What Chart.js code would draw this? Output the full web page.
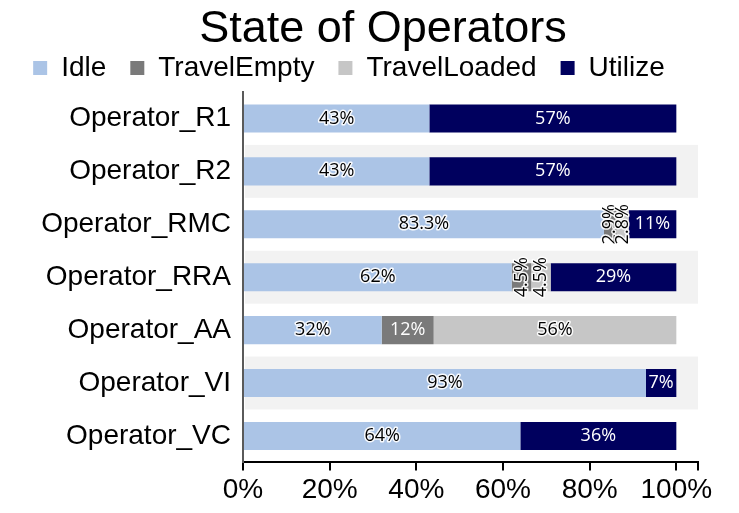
<!DOCTYPE html>
<html>
<head>
<meta charset="utf-8">
<title>State of Operators</title>
<script src="https://cdn.jsdelivr.net/npm/chart.js@4.4.0/dist/chart.umd.min.js"></script>
<style>
  html, body { margin: 0; padding: 0; background: #fff; }
  #wrap { width: 739px; height: 513px; }
</style>
</head>
<body>
<div id="wrap"><canvas id="myChart" width="739" height="513"></canvas></div>
<script>
const operators = ['Operator_R1', 'Operator_R2', 'Operator_RMC', 'Operator_RRA', 'Operator_AA', 'Operator_VI', 'Operator_VC'];
const idle         = [43, 43, 83.3, 62, 32, 93, 64];
const travelEmpty  = [0, 0, 2.9, 4.5, 12, 0, 0];
const travelLoaded = [0, 0, 2.8, 4.5, 56, 0, 0];
const utilize      = [57, 57, 11, 29, 0, 7, 36];
const xTicks = [0, 20, 40, 60, 80, 100];
const xMax = 105;

const FONT = '"Liberation Sans", Arial, sans-serif';

// light grey stripe behind every second row
const rowBands = {
  id: 'rowBands',
  beforeDatasetsDraw(chart) {
    const { ctx, chartArea, scales } = chart;
    const half = (chartArea.bottom - chartArea.top) / operators.length / 2;
    ctx.save();
    ctx.fillStyle = '#f2f2f2';
    operators.forEach((name, i) => {
      if (i % 2 === 0) return;
      const y = scales.y.getPixelForValue(i);
      ctx.fillRect(chartArea.left + 2, y - half, chartArea.right - chartArea.left - 2, half * 2);
    });
    ctx.restore();
  }
};

// percentage text inside each segment, turned upright when the segment is too thin
const segmentLabels = {
  id: 'segmentLabels',
  afterDatasetsDraw(chart) {
    const ctx = chart.ctx;
    ctx.save();
    ctx.font = '18px "Open Sans", sans-serif';
    ctx.textAlign = 'center';
    ctx.textBaseline = 'middle';
    ctx.lineJoin = 'round';
    chart.data.datasets.forEach((ds, di) => {
      const meta = chart.getDatasetMeta(di);
      const onDark = di === 1 || di === 3;
      meta.data.forEach((bar, i) => {
        const v = ds.data[i];
        if (!v) return;
        const text = v + '%';
        const w = Math.abs(bar.x - bar.base);
        const cx = Math.min(bar.x, bar.base) + w / 2;
        const narrow = ctx.measureText(text).width + 4 > w;
        ctx.save();
        ctx.translate(cx, bar.y);
        if (narrow) ctx.rotate(-Math.PI / 2);
        if (onDark && !narrow) {
          ctx.fillStyle = '#ffffff';
          ctx.fillText(text, 0, 0);
        } else {
          ctx.strokeStyle = 'rgba(255,255,255,0.9)';
          ctx.lineWidth = 3;
          ctx.strokeText(text, 0, 0);
          ctx.fillStyle = '#000000';
          ctx.fillText(text, 0, 0);
        }
        ctx.restore();
      });
    });
    ctx.restore();
  }
};

const chartTitle = {
  id: 'chartTitle',
  afterDraw(chart) {
    const ctx = chart.ctx;
    ctx.save();
    ctx.font = '45px ' + FONT;
    ctx.fillStyle = '#000';
    ctx.textAlign = 'center';
    ctx.textBaseline = 'middle';
    ctx.fillText('State of Operators', 383, 30);
    ctx.restore();
  }
};

const data = {
  labels: operators,
  datasets: [
    { label: 'Idle', data: idle, backgroundColor: '#abc4e6' },
    { label: 'TravelEmpty', data: travelEmpty, backgroundColor: '#7a7a7a' },
    { label: 'TravelLoaded', data: travelLoaded, backgroundColor: '#c6c6c6' },
    { label: 'Utilize', data: utilize, backgroundColor: '#00005e' }
  ]
};

const config = {
  type: 'bar',
  data: data,
  options: {
    indexAxis: 'y',
    responsive: false,
    animation: false,
    devicePixelRatio: 1,
    barPercentage: 0.53,
    categoryPercentage: 1,
    borderWidth: 0,
    layout: { padding: { top: 30, right: 41, left: 0, bottom: 3 } },
    plugins: {
      title: { display: false },
      tooltip: { enabled: false },
      legend: {
        position: 'top',
        labels: {
          color: '#000',
          font: { family: FONT, size: 28 },
          boxWidth: 14,
          boxHeight: 14,
          padding: 24
        }
      }
    },
    scales: {
      x: {
        stacked: true,
        min: 0,
        max: xMax,
        // labelled ticks every 20%, plus an unlabelled one at the axis end
        afterBuildTicks: function(scale) {
          scale.ticks = xTicks.concat([xMax]).map(v => ({ value: v }));
        },
        ticks: {
          autoSkip: false,
          color: '#000',
          padding: 3,
          maxRotation: 0,
          font: { family: FONT, size: 28 },
          callback: function(value) {
            return xTicks.includes(value) ? value + '%' : '';
          }
        },
        grid: { drawOnChartArea: false, drawTicks: true, tickLength: 8, color: '#000', lineWidth: 2 },
        border: { color: '#000', width: 2 }
      },
      y: {
        stacked: true,
        ticks: {
          color: '#000',
          padding: 12,
          font: { family: FONT, size: 28 }
        },
        grid: { display: false, drawTicks: false },
        border: { color: '#5a5a5a', width: 2 },
        afterFit: function(scale) { scale.width = 243; }
      }
    }
  },
  plugins: [rowBands, segmentLabels, chartTitle]
};

var myChart = new Chart(document.getElementById('myChart'), config);
</script>
</body>
</html>
